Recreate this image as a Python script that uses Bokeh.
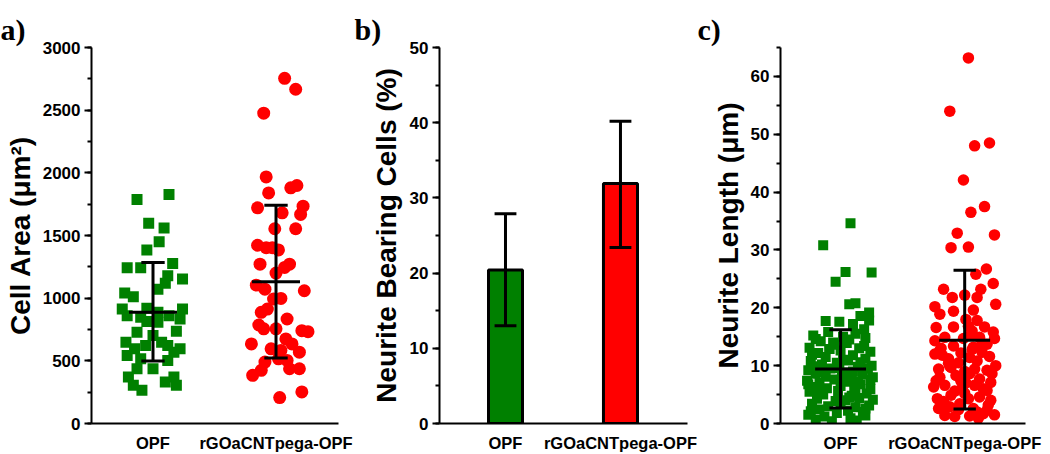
from bokeh.plotting import figure
from bokeh.layouts import row
from bokeh.models import Range1d, SingleIntervalTicker, FixedTicker
from bokeh.embed import file_html
from bokeh.resources import INLINE

# ---------------- data ----------------
categories = ["OPF", "rGOaCNTpega-OPF"]
cat_pos = [1, 2]

# panel a: cell area (um^2) -- x jitter (category units) and values
area_opf_dx = [-0.13, 0.13, -0.035, 0.09, 0.05, -0.05, -0.21, -0.10, 0.16, 0.12, 0.24, 0.04,
               -0.23, -0.16, -0.25, -0.21, -0.10, -0.05, 0.04, 0.24, 0.22, 0.13, -0.05, 0.19,
               -0.22, -0.15, -0.21, 0.0, 0.07, 0.12, 0.22, 0.17, -0.06, -0.10, 0.12, -0.13,
               0.0, -0.20, 0.17, -0.16, 0.10, 0.19, -0.09, 0.04, -0.13, 0.10]
area_opf = [1787, 1827, 1597, 1560, 1451, 1385, 1242, 1242, 1276, 1178, 1152, 1072,
            1041, 1012, 913, 860, 847, 919, 887, 913, 834, 860, 813, 736,
            649, 596, 543, 702, 649, 622, 596, 569, 622, 516, 503, 437,
            437, 371, 371, 305, 331, 305, 265, 807, 728, 1120]

area_cnt_dx = [0.07, 0.16, -0.10, -0.08, -0.06, 0.12, 0.17, -0.15, 0.22, 0.20, 0.05, -0.01,
               0.16, -0.15, -0.08, -0.03, 0.02, -0.13, 0.11, 0.07, 0.0, -0.16, -0.09, 0.23,
               0.04, -0.02, -0.07, -0.12, 0.09, -0.14, -0.10, 0.0, 0.21, 0.26, 0.08, 0.13,
               -0.20, -0.04, 0.04, 0.19, -0.09, 0.09, 0.02, -0.12, -0.19, 0.11, 0.19, 0.03, 0.21]
area_cnt = [2754, 2667, 2476, 1967, 1840, 1880, 1899, 1721, 1734, 1668, 1681, 1554,
            1554, 1422, 1403, 1403, 1385, 1271, 1271, 1245, 1200, 1104, 1072, 1059,
            998, 993, 913, 887, 834, 786, 755, 755, 741, 733, 675, 635,
            635, 596, 583, 569, 490, 503, 516, 424, 384, 437, 437, 207, 252]

area_mean = [887, 1131]
area_low = [498, 522]
area_high = [1284, 1742]

# panel b: neurite bearing cells (%)
pct_mean = [20.4, 31.9]
pct_low = [13.0, 23.4]
pct_high = [27.9, 40.2]

# panel c: neurite length (um)
len_opf_dx = [0.08, -0.14, 0.04, 0.25, -0.04, 0.07, 0.12, 0.23, 0.23, -0.12, -0.01, 0.16, 0.10,
              -0.22, -0.10, 0.02, 0.12, 0.20, -0.16, 0.07,
              -0.25, -0.05, 0.15, 0.24, -0.18, 0.0, 0.10, -0.12,
              -0.24, 0.20, -0.03, 0.06, -0.15, 0.25, 0.14,
              -0.26, -0.20, -0.08, 0.03, 0.18, 0.26, -0.12, 0.10,
              -0.27, -0.17, -0.05, 0.07, 0.16, 0.24, -0.22, 0.0, 0.12,
              -0.25, -0.14, -0.02, 0.09, 0.21, -0.19, 0.04, 0.15, 0.26,
              -0.23, -0.10, 0.0, 0.12, 0.23, -0.17, 0.06, 0.18,
              -0.26, -0.13, -0.03, 0.08, 0.20, -0.20, 0.13, -0.07,
              -0.09, 0.19, -0.21, 0.02, 0.11, -0.06,
              -0.20, 0.05, 0.19, -0.09, -0.23, 0.16, -0.01, 0.22, -0.15, 0.09,
              -0.26, 0.01, 0.14, -0.11, 0.24, -0.18, 0.07, -0.04, 0.20, -0.24]
len_opf = [34.6, 30.8, 26.2, 26.1, 24.5, 20.6, 20.8, 19.2, 17.8, 17.7, 17.6, 18.6, 17.2,
           15.2, 15.8, 15.0, 15.5, 14.8, 14.2, 14.5,
           13.1, 13.6, 13.0, 12.4, 12.2, 12.6, 11.8, 11.5,
           10.8, 11.2, 10.5, 10.9, 10.2, 10.0, 9.8,
           9.2, 8.6, 9.5, 8.8, 8.5, 8.0, 8.1, 9.0,
           7.4, 7.0, 7.6, 7.2, 6.8, 7.5, 6.3, 6.5, 6.0,
           5.5, 5.0, 5.6, 4.8, 5.2, 4.3, 4.0, 4.4, 4.1,
           3.4, 3.0, 3.6, 2.8, 3.1, 2.4, 2.2, 2.0,
           1.5, 1.2, 1.8, 0.9, 1.4, 0.6, 0.5, 0.4,
           12.9, 16.3, 9.9, 11.0, 5.9, 14.0,
           14.6, 13.9, 13.4, 12.9, 11.9, 10.6, 9.6, 9.5, 8.9, 8.2,
           6.8, 7.9, 7.3, 6.1, 5.9, 5.3, 4.5, 3.9, 2.6, 2.1]

len_cnt_dx = [0.03, -0.12, 0.08, 0.20, -0.01, 0.16, 0.05,
              -0.06, 0.24, -0.11, 0.03, 0.175, 0.09, 0.23, -0.17, -0.10, 0.13, 0.10, 0.0, 0.25,
              -0.24, -0.20, -0.09, 0.01, 0.10, -0.23, -0.09, 0.03, 0.16, 0.23,
              -0.16, -0.01, 0.12, 0.24, -0.24, -0.20, -0.09, 0.07, 0.18,
              -0.24, -0.13, 0.04, 0.14, 0.25, -0.21, -0.11, 0.08, 0.18,
              -0.20, -0.07, 0.04, 0.12, 0.21, -0.25, -0.16, -0.02, 0.08, 0.18,
              -0.22, -0.11, 0.03, 0.12, 0.21, -0.21, -0.12, -0.04, 0.07, 0.18,
              -0.16, -0.08, 0.04, 0.15,
              -0.05, -0.03, 0.0, 0.0, -0.18, -0.17, 0.10, 0.14, 0.05, 0.07,
              -0.19, 0.06, 0.20, -0.13, 0.10, -0.03, 0.22, -0.23, 0.15, -0.08,
              0.01, 0.19, -0.17, 0.11, -0.05, 0.24, -0.12, 0.06]
len_cnt = [63.2, 54.0, 48.0, 48.5, 42.1, 37.5, 36.5,
           32.9, 32.6, 30.4, 30.5, 26.7, 25.8, 24.2, 23.2, 21.8, 23.2, 21.8, 22.2, 20.6,
           20.2, 18.9, 19.4, 18.0, 17.8, 16.6, 16.7, 16.8, 16.7, 15.8,
           14.9, 14.7, 14.9, 14.7, 14.3, 12.6, 13.4, 13.2, 13.7,
           12.0, 11.2, 11.4, 12.3, 10.0, 9.4, 9.7, 9.4, 9.2,
           8.0, 8.3, 8.6, 7.7, 7.1, 6.3, 6.6, 6.0, 6.6, 5.7,
           4.3, 4.9, 4.3, 4.6, 4.0, 2.6, 2.9, 3.4, 2.6, 2.3,
           1.4, 1.2, 1.3, 1.7,
           10.5, 7.3, 5.2, 9.0, 11.8, 3.8, 2.0, 13.9, 15.3, 19.6,
           13.0, 12.8, 11.6, 10.4, 10.8, 12.2, 8.6, 7.4, 6.0, 5.6,
           7.0, 3.2, 3.0, 0.9, 2.4, 1.5, 9.9, 16.0]

len_mean = [9.4, 14.4]
len_low = [2.7, 2.5]
len_high = [16.2, 26.5]

# ---------------- style ----------------
GREEN = "#008000"
RED = "#FF0000"
SANS = "Liberation Sans"
SERIF = "Liberation Serif"
H = 454
TOP = 47
BOTTOM = 29


def make_fig(width, left, right, xr, yr, interval, ylabel, ylabel_standoff, letter, letter_offset):
    p = figure(width=width, height=H, output_backend="svg", toolbar_location=None,
               x_range=Range1d(*xr), y_range=Range1d(*yr),
               min_border_left=left, min_border_right=right,
               min_border_top=TOP, min_border_bottom=BOTTOM,
               title=letter)
    p.outline_line_color = None
    p.grid.visible = False
    p.background_fill_color = "white"
    p.border_fill_color = "white"
    # panel letter
    p.title.text_font = SERIF
    p.title.text_font_style = "bold"
    p.title.text_font_size = "30px"
    p.title.text_color = "black"
    p.title.text_line_height = 0.6
    p.title.align = "left"
    p.title.vertical_align = "top"
    p.title.offset = letter_offset
    p.title.standoff = 0
    # x axis
    xa = p.xaxis[0]
    xa.ticker = FixedTicker(ticks=cat_pos, minor_ticks=[])
    xa.major_label_overrides = {c: t for c, t in zip(cat_pos, categories)}
    xa.major_tick_out = 0
    xa.major_tick_in = 0
    xa.minor_tick_out = 0
    xa.axis_line_width = 2
    xa.axis_line_color = "black"
    xa.major_label_text_font = SANS
    xa.major_label_text_font_style = "bold"
    xa.major_label_text_font_size = "16.5px"
    xa.major_label_text_color = "black"
    xa.major_label_standoff = 10
    # y axis
    ya = p.yaxis[0]
    ya.ticker = SingleIntervalTicker(interval=interval, num_minor_ticks=2)
    ya.axis_line_width = 2
    ya.axis_line_color = "black"
    ya.major_tick_out = 7
    ya.major_tick_in = 0
    ya.minor_tick_out = 4
    ya.minor_tick_in = 0
    ya.major_tick_line_width = 2
    ya.minor_tick_line_width = 2
    ya.major_tick_line_color = "black"
    ya.minor_tick_line_color = "black"
    ya.major_label_text_font = SANS
    ya.major_label_text_font_style = "bold"
    ya.major_label_text_font_size = "17px"
    ya.major_label_text_color = "black"
    ya.major_label_standoff = 4
    ya.axis_label = ylabel
    ya.axis_label_text_font = SANS
    ya.axis_label_text_font_style = "bold"
    ya.axis_label_text_font_size = "28px"
    ya.axis_label_text_color = "black"
    ya.axis_label_standoff = ylabel_standoff
    return p


def error_bars(p, mean, low, high, mean_w, cap_w, draw_mean=True):
    lw = 3
    p.segment(x0=cat_pos, y0=low, x1=cat_pos, y1=high, line_color="black", line_width=lw)
    p.segment(x0=[c - cap_w / 2 for c in cat_pos], y0=low,
              x1=[c + cap_w / 2 for c in cat_pos], y1=low, line_color="black", line_width=lw)
    p.segment(x0=[c - cap_w / 2 for c in cat_pos], y0=high,
              x1=[c + cap_w / 2 for c in cat_pos], y1=high, line_color="black", line_width=lw)
    if draw_mean:
        p.segment(x0=[c - mean_w / 2 for c in cat_pos], y0=mean,
                  x1=[c + mean_w / 2 for c in cat_pos], y1=mean, line_color="black", line_width=lw)


# ---------------- panel a ----------------
pa = make_fig(354, 91, 16, (0.5, 2.508), (0, 3000), 500, "Cell Area (μm²)", 4, "a)", -91)
pa.scatter(x=[cat_pos[0] + d for d in area_opf_dx], y=area_opf, marker="square",
           size=11, fill_color=GREEN, line_color=None)
pa.scatter(x=[cat_pos[1] + d for d in area_cnt_dx], y=area_cnt, marker="circle",
           size=13, fill_color=RED, line_color=None)
error_bars(pa, area_mean, area_low, area_high, 0.39, 0.19)

# ---------------- panel b ----------------
pb = make_fig(343, 85, 10, (0.426, 2.583), (0, 50), 10, "Neurite Bearing Cells (%)", 5, "b)", -85)
pb.vbar(x=cat_pos, top=pct_mean, bottom=0, width=0.296, fill_color=[GREEN, RED],
        line_color="black", line_width=3)
error_bars(pb, pct_mean, pct_low, pct_high, 0.0, 0.19, draw_mean=False)

# ---------------- panel c ----------------
pc = make_fig(353, 83, 25, (0.516, 2.49), (0, 65), 10, "Neurite Length (μm)", 4, "c)", -83)
pc.scatter(x=[cat_pos[0] + d for d in len_opf_dx], y=len_opf, marker="square",
           size=10, fill_color=GREEN, line_color=None)
pc.scatter(x=[cat_pos[1] + d for d in len_cnt_dx], y=len_cnt, marker="circle",
           size=11.5, fill_color=RED, line_color=None)
error_bars(pc, len_mean, len_low, len_high, 0.41, 0.18)

layout = row(pa, pb, pc, spacing=0)
open("out.html", "w").write(file_html(layout, INLINE))
